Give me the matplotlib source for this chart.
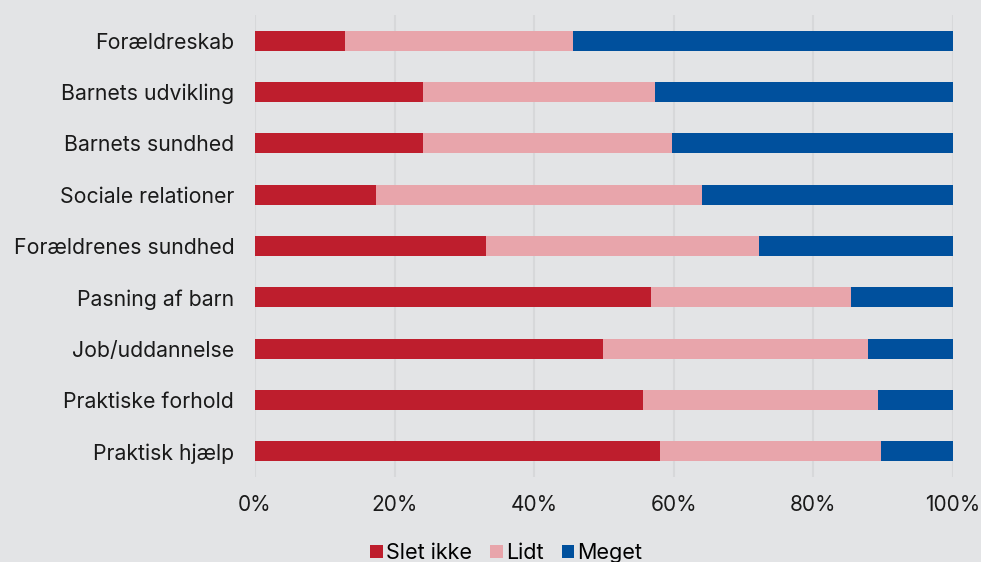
import numpy as np
import matplotlib.pyplot as plt
from matplotlib.ticker import PercentFormatter

# andel (%) af svarene for hvert emne
emner = ['Forældreskab', 'Barnets udvikling', 'Barnets sundhed', 'Sociale relationer',
         'Forældrenes sundhed', 'Pasning af barn', 'Job/uddannelse', 'Praktiske forhold',
         'Praktisk hjælp']
slet_ikke = [12.9, 24.1, 24.1, 17.3, 33.1, 56.7, 49.9, 55.6, 58.0]
lidt = [32.7, 33.2, 35.6, 46.7, 39.1, 28.7, 37.9, 33.7, 31.7]
meget = [54.4, 42.7, 40.3, 36.0, 27.8, 14.6, 12.2, 10.7, 10.3]

serier = ['Slet ikke', 'Lidt', 'Meget']
farver = ['#be1e2d', '#e8a5ab', '#00509d']
bg = '#e3e4e6'

plt.rcParams['font.family'] = ['Inter', 'DejaVu Sans']

fig = plt.figure(figsize=(9.81, 5.62), dpi=100, facecolor=bg)
ax = fig.add_axes([255/981, 1-477/562, 698/981, 462/562], facecolor=bg)

y = np.arange(len(emner))
venstre = np.zeros(len(emner))
for navn, vals, c in zip(serier, [slet_ikke, lidt, meget], farver):
    ax.barh(y, vals, left=venstre, height=0.39, color=c, label=navn, zorder=3)
    venstre += np.array(vals)

ax.set_ylim(len(emner)-0.5, -0.5)
ax.set_xlim(0, 100)
ax.set_yticks(y)
ax.set_yticklabels(emner, fontsize=15.3, color='#1a1a1a')
ax.set_xticks([0, 20, 40, 60, 80, 100])
ax.xaxis.set_major_formatter(PercentFormatter(decimals=0))
ax.tick_params(axis='x', labelsize=15, colors='#1a1a1a', length=0, pad=13)
ax.tick_params(axis='y', length=0, pad=15)
ax.grid(axis='x', color='#d7d8da', linewidth=1.5, zorder=0)
for s in ax.spines.values():
    s.set_visible(False)

# forklaring nederst ved kanten
fig.legend(loc='center', bbox_to_anchor=(0.516, 1-553/562), ncol=3, frameon=False,
           fontsize=15.5, handlelength=0.6, handleheight=0.6, handletextpad=0.12,
           columnspacing=0.85)

fig.savefig('out.png', dpi=100, facecolor=bg)
